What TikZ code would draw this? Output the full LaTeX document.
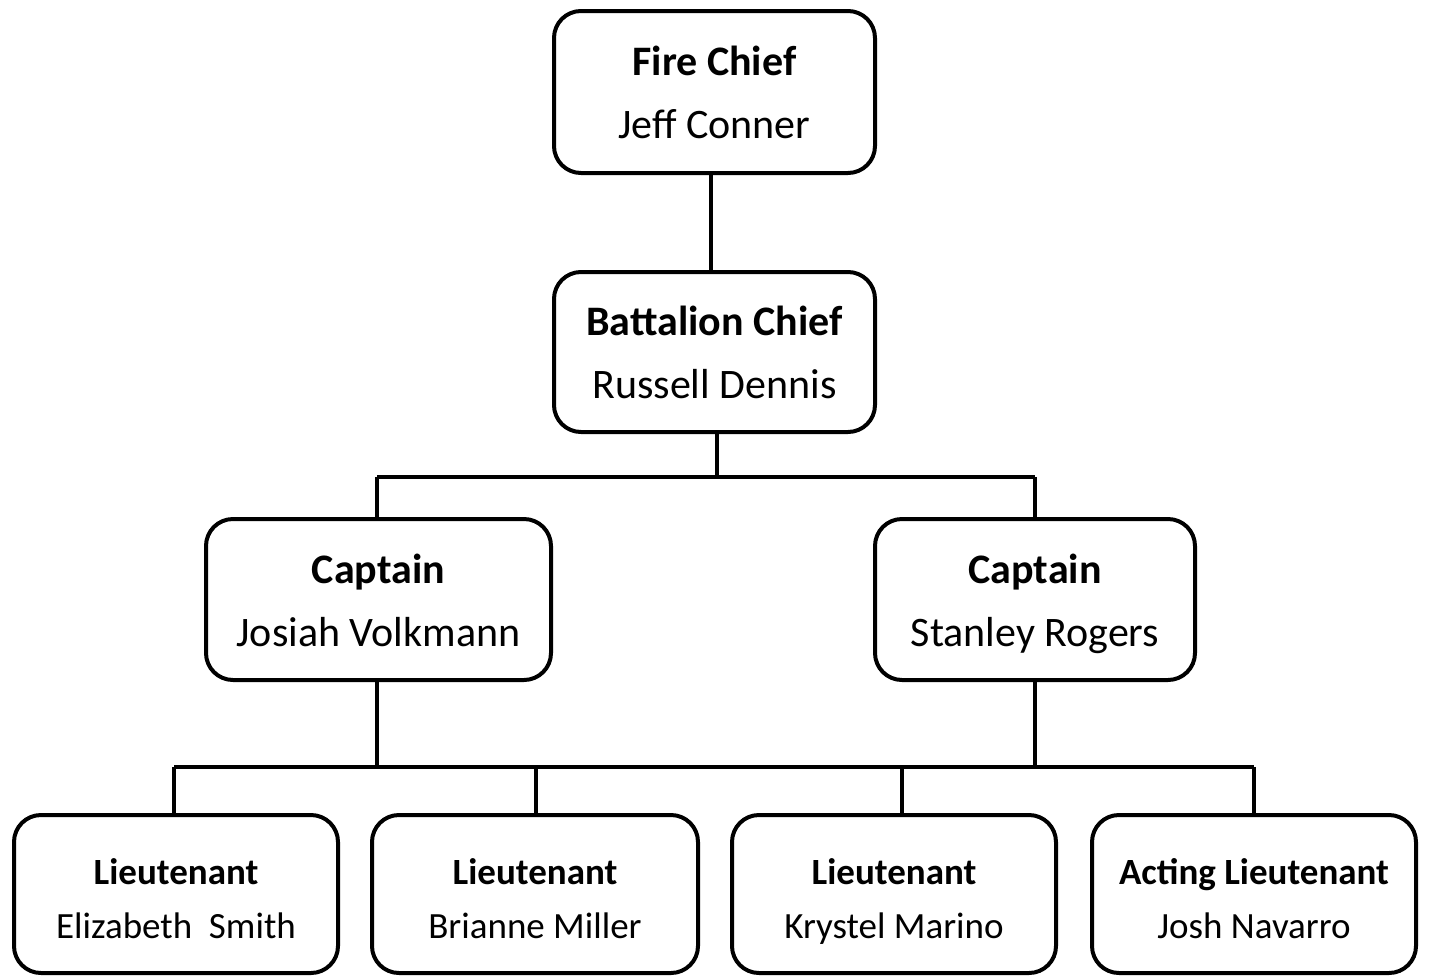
\documentclass[tikz,border=0pt]{standalone}
\usepackage{fontspec}
\setmainfont{Carlito}
\newcommand\toplinestrut[1]{\rule{0pt}{#1}}
\newcommand\botlinestrut[1]{\rule[-#1]{0pt}{#1}}
\begin{document}
\begin{tikzpicture}[x=1pt,y=-1pt,
  box/.style={draw, line width=4pt, rounded corners=27pt, align=center, inner sep=0pt},
  big/.style={font=\fontsize{42}{63}\selectfont},
  small/.style={font=\fontsize{37}{54}\selectfont},
  conn/.style={line width=4pt}]
\useasboundingbox (0,0) rectangle (1430,978);

\node[box,big,minimum width=321pt,minimum height=162pt] (fc) at (714.5,92)
  {\toplinestrut{42pt}\textbf{Fire Chief}\\Jeff Conner\botlinestrut{12pt}};
\node[box,big,minimum width=321pt,minimum height=160pt] (bc) at (714.5,352)
  {\toplinestrut{42pt}\textbf{Battalion Chief}\\Russell Dennis\botlinestrut{12pt}};
\node[box,big,minimum width=345pt,minimum height=161pt] (c1) at (378.5,599.5)
  {\toplinestrut{42pt}\textbf{Captain}\\Josiah Volkmann\botlinestrut{12pt}};
\node[box,big,minimum width=320pt,minimum height=161pt] (c2) at (1035,599.5)
  {\toplinestrut{42pt}\textbf{Captain}\\Stanley Rogers\botlinestrut{12pt}};
\node[box,small,minimum width=324pt,minimum height=158pt] (l1) at (176,894)
  {\toplinestrut{44pt}\textbf{Lieutenant}\\Elizabeth\ \ Smith\botlinestrut{10pt}};
\node[box,small,minimum width=326pt,minimum height=158pt] (l2) at (535,894)
  {\toplinestrut{44pt}\textbf{Lieutenant}\\Brianne Miller\botlinestrut{10pt}};
\node[box,small,minimum width=324pt,minimum height=158pt] (l3) at (894,894)
  {\toplinestrut{44pt}\textbf{Lieutenant}\\Krystel Marino\botlinestrut{10pt}};
\node[box,small,minimum width=324pt,minimum height=158pt] (l4) at (1254,894)
  {\toplinestrut{44pt}\textbf{Acting Lieutenant}\\Josh Navarro\botlinestrut{10pt}};

\coordinate (a0) at (711,0);
\coordinate (b0) at (717,477);
\coordinate (bl) at (377,477);
\coordinate (br) at (1035,477);
\coordinate (j1) at (174,767);
\coordinate (j2) at (536,767);
\coordinate (j3) at (902,767);
\coordinate (j4) at (1254,767);
\coordinate (jl) at (377,767);
\coordinate (jr) at (1035,767);

\draw[conn] (a0 |- fc.south) -- (a0 |- bc.north);
\draw[conn] (b0 |- bc.south) -- (b0);
\draw[conn] (bl) -- (br);
\draw[conn] (bl) -- (bl |- c1.north);
\draw[conn] (br) -- (br |- c2.north);
\draw[conn] (jl |- c1.south) -- (jl);
\draw[conn] (jr |- c2.south) -- (jr);
\draw[conn] (j1) -- (j4);
\draw[conn] (j1) -- (j1 |- l1.north);
\draw[conn] (j2) -- (j2 |- l2.north);
\draw[conn] (j3) -- (j3 |- l3.north);
\draw[conn] (j4) -- (j4 |- l4.north);
\end{tikzpicture}
\end{document}
